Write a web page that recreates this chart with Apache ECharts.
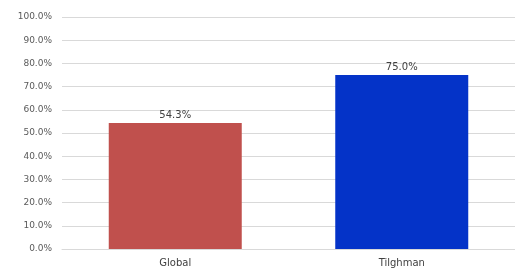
<!DOCTYPE html>
<html>
<head>
<meta charset="utf-8">
<script src="https://cdn.jsdelivr.net/npm/echarts@6/dist/echarts.min.js"></script>
<style>
  html, body { margin: 0; padding: 0; background: #fff; }
  #chart { width: 515px; height: 278px; }
</style>
</head>
<body>
<div id="chart"></div>
<script>
const categories = ['Global', 'Tilghman'];
const values = [54.3, 75.0];
const barColors = ['#c0504d', '#0433c8'];

const chart = echarts.init(document.getElementById('chart'));
chart.setOption({
  animation: false,
  backgroundColor: '#fff',
  grid: { left: 62, right: 0, top: 17, bottom: 29 },
  xAxis: {
    type: 'category',
    data: categories,
    axisLine: { lineStyle: { color: '#d9d9d9' } },
    axisTick: { show: false },
    axisLabel: { color: '#404040', fontSize: 10, fontFamily: 'DejaVu Sans', margin: 9 }
  },
  yAxis: {
    type: 'value',
    min: 0,
    max: 100,
    interval: 10,
    axisLine: { show: false },
    axisTick: { show: false },
    splitLine: { lineStyle: { color: '#d9d9d9' } },
    axisLabel: {
      color: '#595959', fontSize: 9, fontFamily: 'DejaVu Sans', margin: 10,
      formatter: (v) => v.toFixed(1) + '%'
    }
  },
  series: [{
    type: 'bar',
    barWidth: 133,
    data: values.map((v, i) => ({ value: v, itemStyle: { color: barColors[i] } })),
    label: {
      show: true,
      position: 'top',
      distance: 3,
      color: '#404040',
      fontSize: 10,
      fontFamily: 'DejaVu Sans',
      formatter: (p) => p.value.toFixed(1) + '%'
    }
  }]
});
</script>
</body>
</html>
